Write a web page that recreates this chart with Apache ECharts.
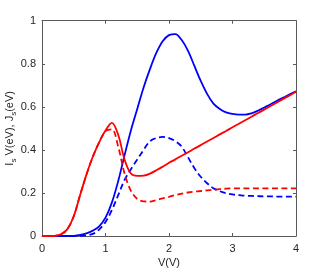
<!DOCTYPE html>
<html><head><meta charset="utf-8">
<script src="https://cdn.jsdelivr.net/npm/echarts@6/dist/echarts.min.js"></script>
<style>html,body{margin:0;padding:0;background:#fff}#c{width:327px;height:273px}</style>
</head><body><div id="c"></div>
<script>
const voltage = [0,0.1,0.2,0.3,0.4,0.5,0.6,0.7,0.8,0.9,1.0,1.1,1.2,1.3,1.4,1.5,1.6,1.7,1.8,1.9,2.0,2.1,2.2,2.3,2.4,2.5,2.6,2.7,2.8,2.9,3.0,3.1,3.2,3.3,3.4,3.5,3.6,3.7,3.8,3.9,4.0];
const redSolid = [0,0,0.001,0.008,0.032,0.092,0.19,0.285,0.368,0.435,0.49,0.525,0.47,0.355,0.29,0.279,0.28,0.29,0.305,0.322,0.34,0.356,0.373,0.389,0.406,0.422,0.439,0.455,0.472,0.488,0.505,0.521,0.538,0.554,0.571,0.587,0.604,0.62,0.637,0.653,0.67];
const redDashed = [0,0,0.001,0.008,0.032,0.092,0.19,0.285,0.368,0.435,0.487,0.495,0.415,0.29,0.21,0.172,0.161,0.16,0.167,0.175,0.182,0.19,0.197,0.202,0.206,0.209,0.212,0.215,0.218,0.22,0.221,0.221,0.221,0.221,0.221,0.221,0.221,0.221,0.221,0.221,0.221];
const blueSolid = [0,0,0,0,0,0.001,0.005,0.012,0.025,0.045,0.085,0.155,0.255,0.375,0.49,0.59,0.69,0.775,0.85,0.905,0.933,0.938,0.91,0.86,0.79,0.72,0.66,0.615,0.59,0.574,0.567,0.564,0.564,0.57,0.582,0.597,0.612,0.628,0.643,0.658,0.672];
const blueDashed = [0,0,0,0,0,0,0.001,0.003,0.01,0.03,0.065,0.12,0.19,0.26,0.31,0.355,0.4,0.44,0.455,0.46,0.455,0.44,0.415,0.365,0.315,0.275,0.245,0.222,0.208,0.199,0.193,0.19,0.187,0.186,0.185,0.184,0.184,0.183,0.183,0.183,0.183];
const xTicks = [0,1,2,3,4];
const yTicks = [0,0.2,0.4,0.6,0.8,1];

const pairs = a => voltage.map((v,i)=>[v,a[i]]);
const chart = echarts.init(document.getElementById('c'), null, {renderer:'canvas'});
const axisCol = '#5a5a5a', txtCol = '#262626';
const font = 'Liberation Sans, Arial, sans-serif';
const mk = (name, data, color, dashed) => ({
  name, type:'line', data: pairs(data), smooth:0.35, showSymbol:false, symbol:'none',
  lineStyle:{color, width:1.8, type: dashed ? [6,3.5] : 'solid'}, animation:false, xAxisIndex:0, yAxisIndex:0
});
chart.setOption({
  animation:false,
  grid:{left:42, right:31, top:20.7, bottom:37, show:false, containLabel:false, outerBoundsMode:'none'},
  xAxis:[{type:'value', min:0, max:4, interval:1, position:'bottom',
    name:'V(V)', nameLocation:'middle', nameGap:21, nameMoveOverlap:false,
    nameTextStyle:{fontFamily:font, fontSize:11, color:txtCol},
    axisLine:{show:true, onZero:false, lineStyle:{color:axisCol, width:1}},
    axisTick:{show:true, inside:true, length:3, lineStyle:{color:axisCol}},
    axisLabel:{fontFamily:font, fontSize:11, color:txtCol, margin:7, formatter: v => xTicks.includes(v) ? String(v) : ''},
    splitLine:{show:false}},
   {type:'value', min:0, max:4, interval:1, position:'top',
    axisLine:{show:true, onZero:false, lineStyle:{color:axisCol, width:1}},
    axisTick:{show:true, inside:true, length:3, lineStyle:{color:axisCol}},
    axisLabel:{show:false}, splitLine:{show:false}}],
  yAxis:[{type:'value', min:0, max:1, interval:0.2, position:'left',
    name:'{a|I}{s|s}{a| V(eV), J}{s|s}{a|(eV)}', nameLocation:'middle', nameGap:24, nameRotate:90, nameMoveOverlap:false,
    nameTextStyle:{fontFamily:font, fontSize:11, color:txtCol,
      rich:{a:{fontFamily:font, fontSize:11, color:txtCol, lineHeight:14, verticalAlign:'top'},
            s:{fontFamily:font, fontSize:8, color:txtCol, lineHeight:14, verticalAlign:'bottom', padding:[5,0,0,0]}}},
    axisLine:{show:true, onZero:false, lineStyle:{color:axisCol, width:1}},
    axisTick:{show:true, inside:true, length:3, lineStyle:{color:axisCol}},
    axisLabel:{fontFamily:font, fontSize:11, color:txtCol, margin:6, formatter: v => { const t = yTicks.find(y=>Math.abs(y-v)<1e-9); return t===undefined ? '' : String(t); }},
    splitLine:{show:false}},
   {type:'value', min:0, max:1, interval:0.2, position:'right',
    axisLine:{show:true, onZero:false, lineStyle:{color:axisCol, width:1}},
    axisTick:{show:true, inside:true, length:3, lineStyle:{color:axisCol}},
    axisLabel:{show:false}, splitLine:{show:false}}],
  series:[
    mk('Is V (blue)', blueSolid, '#0000ff', false),
    mk('Js (blue)', blueDashed, '#0000ff', true),
    mk('Is V (red)', redSolid, '#ff0000', false),
    mk('Js (red)', redDashed, '#ff0000', true)
  ]
});
</script></body></html>
